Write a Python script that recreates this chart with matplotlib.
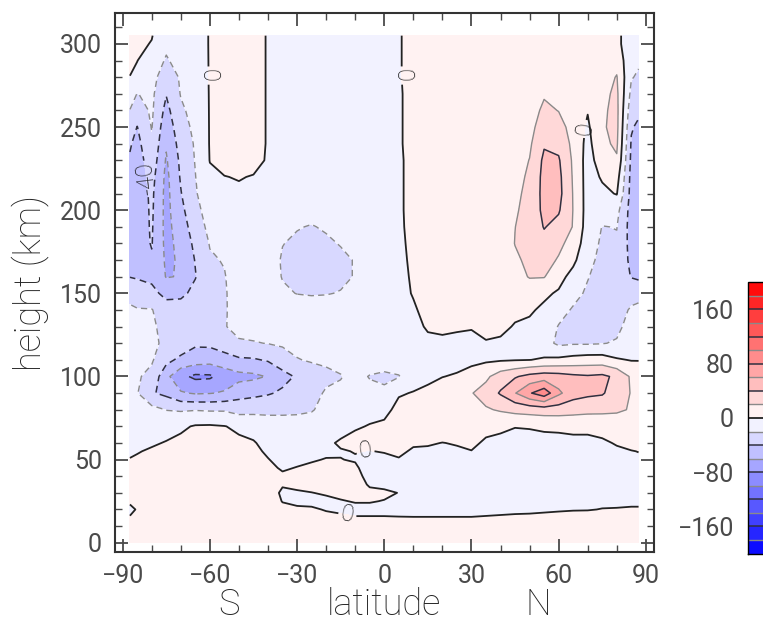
import numpy as np
import matplotlib.pyplot as plt

# latitude grid (deg) and height grid (km)
lats = [-87.5, -85, -80, -75, -70, -65, -60, -55, -50, -45, -40, -35, -30,
        -25, -20, -15, -10, -5, 0, 5, 10, 15, 20, 25, 30, 35, 40, 45, 50,
        55, 60, 65, 70, 75, 80, 85, 87.5]

heights_low = [0, 10, 15, 20, 25, 30, 35, 40, 45, 50, 55, 60]
heights_mid = [70, 80, 90, 100, 110, 120, 130, 140]
heights_high = [150, 160, 170, 180, 190, 200, 210, 220, 230, 240, 250,
                260, 270, 280, 290, 300, 305]

# values, one row per height
u_low = [
    [8] * 37,
    [5, 6, 8, 8, 8, 8, 8, 8, 8, 8, 8, 7, 6, 6, 5, 4, 4, 4, 4, 4, 4, 4, 4, 4, 4, 5, 5, 5, 6, 6, 6, 6, 6, 6, 6, 6, 6],
    [1, 4, 8, 8, 8, 8, 8, 8, 8, 8, 8, 5, 4, 3, 2, 1.5, 0.5, 0.5, 0.5, 0.5, 0.5, 0.5, 0.5, 0.5, 0.5, 1, 1.5, 2, 2, 2.5, 3, 3, 4, 4, 4, 4, 4],
    [-3, 1, 8, 8, 8, 8, 8, 8, 8, 8, 8, 3, 1.5, 1, -0.5, -1.5, -2, -2, -2, -3, -4, -4, -4, -4, -4, -3.5, -3, -2.5, -2, -1.5, -1, -0.5, -0.5, 0.3, 0.5, 1, 1],
    [2, 4, 8, 8, 8, 8, 8, 8, 8, 8, 7, -0.5, -2, -2, -2, -0.5, 0.5, 0.5, -0.3, -1, -6, -6, -6, -6, -6, -6, -5, -5, -4, -4, -3.5, -3, -2.5, -2, -2, -2, -2],
    [6, 7, 8, 8, 8, 8, 8, 8, 8, 8, 6, -2, -1, -0.2, 1, 2, 3, 2, 1.5, -0.2, -7, -7, -7, -7, -7, -7, -6, -6, -5, -5, -4, -4, -3.5, -3, -3, -3, -3],
    [8, 8, 8, 8, 8, 8, 8, 8, 8, 8, 6, 1, 2, 3, 3, 3, 4, -1, -2, -4, -8, -8, -8, -8, -8, -8, -7, -7, -6, -6, -5, -5, -4, -4, -4, -4, -4],
    [7, 8, 8, 8, 8, 8, 8, 8, 8, 8, 5, 2, 3, 4, 4, 4, 4, -4, -5, -6, -8, -8, -8, -8, -8, -8, -7, -7, -6, -6, -5, -5, -5, -4, -4, -4, -4],
    [4, 6, 8, 8, 8, 8, 8, 8, 8, 7, 3, -1.5, 0.5, 2, 3, 3, 2, -6, -7, -6, -7, -7, -7, -7, -7, -7, -6, -6, -6, -5, -5, -4, -4, -4, -4, -3, -3],
    [0.5, 2, 5, 7, 8, 8, 8, 8, 7, 5, 0.5, -4, -3, -1, 0.5, 0.3, -1, -4, -4, -1, -5, -5, -5, -4, -3, -5, -5, -5, -5, -5, -5, -4, -4, -3, -3, -2, -2],
    [-2, -1, 2, 4, 6, 7, 7, 6, 5, 3, -2, -5, -5, -4, -2, -1, 0.5, -0.5, 1, 3, -2, -2.5, -3, -2, -0.5, -4, -4, -5, -5, -4, -4, -3, -3, -3, -2, -0.5, 0.3],
    [-4, -3, -2, 1, 4, 6, 7, 6, 3, 1, -4, -6, -7, -7, -3, 2, 6, 6, 8, 10, 2, 1.5, -0.3, 1, 4, -3, -4, -5, -5, -4, -4, -3, -3, -2, 1, 4, 3],
]

u_mid = [
    [-8, -9, -8, -7, -3, 1.5, 2, 0.5, -3, -5, -12, -12, -13, -14, -12, -6, -2, 1, 4, 12, 9, 10, 10, 12, 13, 6, 3, 0.5, 1, 2, 2.5, 3, 3, 5, 12, 14, 12],
    [-12, -14, -14, -20.5, -22, -21, -22, -22, -27, -26, -24, -24, -23, -21, -16, -12, -10, -6, -6, 6, 10, 12, 13, 14, 16, 18, 22, 26, 28, 30, 30, 28, 26, 25, 22, 19, 16],
    [-14, -19, -38, -45, -58, -62, -61, -58, -48, -45, -42, -37, -30, -26, -18, -16, -12, -15, -16, -2, 1, 6, 10, 14, 19, 28, 42, 59, 78, 92, 64, 48, 44, 42, 30, 19, 17],
    [-15, -18, -25, -55, -75, -84, -83, -72, -66, -64, -59, -46, -38, -30, -24, -21, -14, -21, -24, -21, -9, -6, -0.5, 2, 8, 16, 30, 38, 46, 50, 48, 44, 42, 44, 36, 17, 15],
    [-15, -16, -18, -34, -45, -50, -52, -48, -43, -42, -38, -30, -21, -18, -17, -14, -12, -10, -10, -10, -10, -10, -8, -7, -5, -3, -2, -1, -0.3, 2, 4, 7, 9, 9, 2, -1, -1],
    [-15, -16, -18, -22, -27, -37, -36, -30, -22, -21, -19.5, -17, -14, -12, -11, -10, -9, -9, -9, -9, -8, -4, -3, -4, -4, -1, -2, -5, -6, -12, -24, -22, -22, -21, -18, -8, -8],
    [-16, -17, -18, -24, -23, -30, -26, -21, -15, -14, -12, -11, -10, -9, -9, -9, -9, -8, -8, -8, -5, 2, 3, 2, 1, 4, 3, -1, -3, -8, -21, -27, -28, -28, -25, -12, -12],
    [-17, -19, -19, -32, -30, -26, -25, -22, -12, -11, -10, -10, -10, -14, -10, -9, -9, -8, -7, -6, -2, 5, 6, 6, 5, 7, 6, 3, 2, -3, -13, -22, -27, -30, -27, -18, -17],
]

u_high = [
    [-26, -28, -35, -45, -45, -34, -25, -22, -11, -10, -10, -17, -20.5, -21, -21, -19, -15, -8, -7, -5, 1, 7, 8, 8, 8, 8, 8, 8, 10, 3, -2, -14, -23, -30, -27, -26, -24],
    [-40.5, -42, -44, -61, -59, -41, -24, -21, -11, -10, -10, -21, -24, -25, -24, -24, -19, -10, -7, -4.5, 2, 8, 8, 8, 8, 8, 8, 14, 21, 21, 6, -6, -19, -28, -26, -41, -44],
    [-44, -46, -42, -63, -58, -39, -22, -19, -11, -10, -10, -22, -25, -26, -25, -24, -19, -10, -7, -4, 3, 8, 8, 8, 8, 8, 8, 17, 24, 28, 18, 4, -14, -26, -24, -45, -52],
    [-45, -48, -39, -65, -55, -35, -19, -15, -10, -10, -10, -19.5, -23, -25, -23, -19, -14, -9, -7, -3.5, 4, 8, 8, 8, 8, 8, 8, 20.5, 26, 34, 25, 12, -11, -23, -22, -47, -56],
    [-46, -50, -38, -66, -50, -30, -15, -11, -8, -8, -9, -14, -19, -21, -18, -14, -11, -9, -8, -3, 5, 8, 8, 8, 8, 8, 8, 19.8, 27, 41, 34, 19, -9, -20.5, -19.5, -48, -58],
    [-46, -52, -37, -66, -45, -26, -11, -7, -6, -6, -8, -9, -11, -14, -11, -9, -8, -8, -8, -3, 6, 8, 8, 8, 8, 8, 8, 18, 26, 45, 42, 19.5, -8, -12, -14, -48, -58],
    [-46, -52, -36, -66, -41, -22, -7, -3, -3, -3, -8, -8, -8, -8, -8, -8, -8, -8, -8, -3, 6, 8, 8, 8, 8, 8, 8, 16, 25, 46, 46, 19, -8, -4, 1, -47, -57],
    [-45, -52, -33, -65, -38, -20.5, -3, -0.5, 1, -1, -4, -8, -8, -8, -8, -8, -8, -8, -8, -3, 6, 8, 8, 8, 8, 8, 8, 14, 23, 46, 45, 18, -8, 2, 8, -46, -56],
    [-42, -50, -28, -62, -36, -19, 0.5, 6, 8, 6, -2, -8, -8, -8, -8, -8, -8, -8, -8, -3, 6, 8, 8, 8, 8, 8, 8, 12, 20.5, 44, 42, 17, -8, 10, 18, -44, -54],
    [-38, -46, -23, -58, -32, -18, 1, 9, 10, 10, -2, -8, -8, -8, -8, -8, -8, -8, -8, -2.5, 7, 8, 8, 8, 8, 8, 8, 10, 17, 38, 35, 15, -6, 16, 23, -42, -50],
    [-30, -40.5, -19, -53, -27, -16, 1, 10, 10, 10, -2, -8, -8, -8, -8, -8, -8, -8, -8, -2.5, 7, 8, 8, 8, 8, 8, 8, 9, 14, 30, 27, 13, -3, 18, 25, -38, -44],
    [-20.5, -30, -17, -46, -23, -14, 1, 10, 10, 10, -2, -8, -8, -8, -8, -8, -8, -8, -8, -2.5, 7, 8, 8, 8, 8, 8, 8, 8, 11, 24, 19.5, 11, 1, 17, 25, -32, -36],
    [-12, -20.5, -16, -39, -19, -12, 1, 10, 10, 10, -2, -8, -8, -8, -8, -8, -8, -8, -8, -2.5, 7, 8, 8, 8, 8, 8, 8, 8, 10, 18, 15, 10, 5, 15, 24, -25, -28],
    [-0.3, -4, -14, -30, -18, -10, 1, 10, 10, 10, -2, -8, -8, -8, -8, -8, -8, -8, -8, -2, 8, 8, 8, 8, 8, 8, 8, 8, 9, 14, 12, 9, 7, 12, 21, -19, -22],
    [3, 0.3, -9, -22, -13, -9, 1, 10, 10, 10, -2, -8, -8, -8, -8, -8, -8, -8, -8, -2, 8, 8, 8, 8, 8, 8, 8, 8, 8, 11, 10, 9, 8, 10, 14, -16, -18],
    [6, 4, -1, -16, -10, -8, 1, 10, 10, 10, -2, -8, -8, -8, -8, -8, -8, -8, -8, -2, 8, 8, 8, 8, 8, 8, 8, 8, 8, 10, 10, 9, 8, 9, 6, -14, -16],
    [6, 4, 1, -15, -10, -8, 1, 10, 10, 10, -2, -8, -8, -8, -8, -8, -8, -8, -8, -2, 8, 8, 8, 8, 8, 8, 8, 8, 8, 10, 10, 9, 8, 9, 6, -14, -16],
]

zero_label_pos = [(-59.5, 281), (6.5, 281), (68.3, 249), (-6.5, 55.8), (-12.7, 16.7)]
m40_label_pos = [(-81, 219)]

plt.rcParams['font.family'] = ['Roboto', 'DejaVu Sans']
plt.rcParams['font.weight'] = 'normal'
plt.rcParams['lines.dashed_pattern'] = [4.5, 3.0]
grey = '#4a4a4a'
label_grey = '#262626'

heights = heights_low + heights_mid + heights_high
u = np.array(u_low + u_mid + u_high, dtype=float)

fig = plt.figure(figsize=(7.63, 6.29), dpi=100)
ax = fig.add_axes([0.1501, 0.1229, 0.7070, 0.8569])

fill_levels = np.arange(-200, 201, 20)
cf = ax.contourf(lats, heights, u, levels=fill_levels, cmap='bwr')


def line_style(v):
    if v == 0:
        return '#222222', 1.3, 'solid'
    if (v // 20) % 2 == 0:
        col, w = '#303040', 1.1
    else:
        col, w = '#8a8a8a', 1.0
    return col, w, ('dashed' if v < 0 else 'solid')


def draw_lines(levels):
    st = [line_style(v) for v in levels]
    return ax.contour(lats, heights, u, levels=levels,
                      colors=[s[0] for s in st],
                      linewidths=[s[1] for s in st],
                      linestyles=[s[2] for s in st])


other_levels = [v for v in np.arange(-180, 181, 20) if v not in (0, -40)]
cs_other = draw_lines(other_levels)
cs_zero = draw_lines([0])
cs_m40 = draw_lines([-40])

ax.clabel(cs_zero, manual=zero_label_pos, inline=True, inline_spacing=3,
          fmt='%d', fontsize=17, colors='#1a1a1a')
ax.clabel(cs_m40, manual=m40_label_pos, inline=True, inline_spacing=3,
          fmt='%d', fontsize=17, colors='#1a1a1a')
# the -40 label reads upward in the reference
for t in cs_m40.labelTexts:
    r = t.get_rotation() % 360
    if 180 < r < 360:
        t.set_rotation(r - 180)
for t in cs_zero.labelTexts + cs_m40.labelTexts:
    t.set_fontweight('light')

ax.set_xlim(-92.8, 92.8)
ax.set_ylim(-5.4, 318.8)
ax.set_xticks(np.arange(-90, 91, 30))
ax.set_xticks(np.arange(-90, 91, 10), minor=True)
ax.set_yticks(np.arange(0, 301, 50))
ax.set_yticks(np.arange(0, 311, 10), minor=True)
ax.tick_params(which='both', direction='in', top=True, right=True,
               colors=grey)
ax.tick_params(which='major', length=9.5, width=1.3, labelsize=18)
ax.tick_params(which='minor', length=5, width=1.0)
ax.tick_params(axis='x', pad=9)
ax.tick_params(axis='y', pad=9)
for sp in ax.spines.values():
    sp.set_linewidth(1.5)
    sp.set_color('#333333')

fig.text(30 / 763, 1 - 283 / 629, 'height (km)', rotation=90, fontsize=26,
         ha='center', va='center', color=label_grey, fontweight='light')
fig.text(229 / 763, 1 - 605 / 629, 'S', fontsize=26, ha='center',
         va='center', color=label_grey, fontweight='light')
fig.text(383.5 / 763, 1 - 605 / 629, 'latitude', fontsize=26, ha='center',
         va='center', color=label_grey, fontweight='light')
fig.text(538 / 763, 1 - 605 / 629, 'N', fontsize=26, ha='center',
         va='center', color=label_grey, fontweight='light')

cax = fig.add_axes([0.9803, 0.1199, 0.06, 0.4312])
cb = fig.colorbar(cf, cax=cax, ticks=[-160, -80, 0, 80, 160])
cb.add_lines(cs_other)
cb.add_lines(cs_zero, erase=False)
cb.add_lines(cs_m40, erase=False)
cax.yaxis.set_ticks_position('left')
cax.tick_params(length=0, labelsize=18, pad=10, colors=grey)
cb.outline.set_linewidth(1.0)

fig.savefig('out.png', dpi=100)
